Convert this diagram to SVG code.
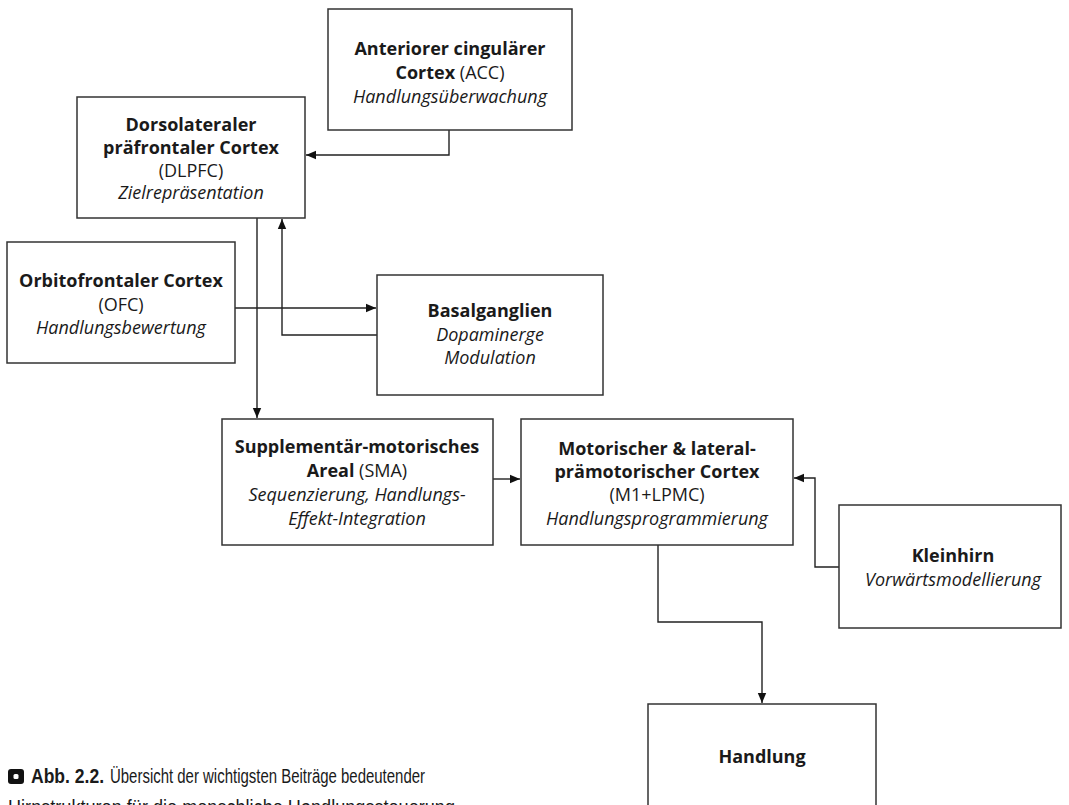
<svg xmlns="http://www.w3.org/2000/svg" width="1069" height="805" viewBox="0 0 1069 805">
<style>
.box{fill:#fff;stroke:#333;stroke-width:1.5}
.t{font-family:"Open Sans","Noto Sans","Liberation Sans",sans-serif;font-size:18px;fill:#1a1a1a;text-anchor:middle}
.b{font-weight:bold}
.i{font-style:italic}
.c{fill:none;stroke:#222;stroke-width:1.4}
.cap{font-family:"Liberation Sans","DejaVu Sans",sans-serif;font-size:20px;fill:#1a1a1a}
</style>
<defs>
<marker id="ah" markerWidth="10" markerHeight="10" refX="10" refY="5" orient="auto" markerUnits="userSpaceOnUse">
<path d="M0,0.8 L10,5 L0,9.2 Z" fill="#111"/>
</marker>
</defs>
<rect width="1069" height="805" fill="#fff"/>
<g id="connectors">
<path class="c" d="M449,130 V155 H306" marker-end="url(#ah)"/>
<path class="c" d="M257,218 V418" marker-end="url(#ah)"/>
<path class="c" d="M235,308 H376" marker-end="url(#ah)"/>
<path class="c" d="M377,335 H282 V219" marker-end="url(#ah)"/>
<path class="c" d="M493,479 H520" marker-end="url(#ah)"/>
<path class="c" d="M839,567 H815 V478 H794" marker-end="url(#ah)"/>
<path class="c" d="M658,545 V622 H762 V703" marker-end="url(#ah)"/>
</g>
<g id="acc">
<rect class="box" x="328" y="9" width="244" height="121"/>
<text class="t b" x="450" y="55">Anteriorer cingulärer</text>
<text class="t" x="450" y="79"><tspan class="b">Cortex</tspan> (ACC)</text>
<text class="t i" x="450" y="103">Handlungsüberwachung</text>
</g>
<g id="dlpfc">
<rect class="box" x="77" y="97" width="228" height="121"/>
<text class="t b" x="191" y="131">Dorsolateraler</text>
<text class="t b" x="191" y="154">präfrontaler Cortex</text>
<text class="t" x="191" y="177">(DLPFC)</text>
<text class="t i" x="191" y="199">Zielrepräsentation</text>
</g>
<g id="ofc">
<rect class="box" x="7" y="242" width="228" height="121"/>
<text class="t b" x="121" y="287">Orbitofrontaler Cortex</text>
<text class="t" x="121" y="311">(OFC)</text>
<text class="t i" x="121" y="334">Handlungsbewertung</text>
</g>
<g id="basalganglien">
<rect class="box" x="377" y="275" width="226" height="120"/>
<text class="t b" x="490" y="317">Basalganglien</text>
<text class="t i" x="490" y="341">Dopaminerge</text>
<text class="t i" x="490" y="364">Modulation</text>
</g>
<g id="sma">
<rect class="box" x="222" y="419" width="271" height="126"/>
<text class="t b" x="357" y="453">Supplementär-motorisches</text>
<text class="t" x="357" y="477"><tspan class="b">Areal</tspan> (SMA)</text>
<text class="t i" x="357" y="501">Sequenzierung, Handlungs-</text>
<text class="t i" x="357" y="525">Effekt-Integration</text>
</g>
<g id="m1lpmc">
<rect class="box" x="521" y="419" width="272" height="126"/>
<text class="t b" x="657" y="455">Motorischer &amp; lateral-</text>
<text class="t b" x="657" y="478">prämotorischer Cortex</text>
<text class="t" x="657" y="501">(M1+LPMC)</text>
<text class="t i" x="657" y="525">Handlungsprogrammierung</text>
</g>
<g id="kleinhirn">
<rect class="box" x="839" y="505" width="222" height="123"/>
<text class="t b" x="953" y="562">Kleinhirn</text>
<text class="t i" x="953" y="586">Vorwärtsmodellierung</text>
</g>
<g id="handlung">
<rect class="box" x="648" y="704" width="228" height="130"/>
<text class="t b" x="762" y="763">Handlung</text>
</g>
<g id="caption">
<rect x="8" y="769" width="16" height="15" rx="3" fill="#111"/>
<rect x="13.5" y="774" width="5" height="5" rx="1.5" fill="#fff"/>
<text class="cap" x="31" y="783" font-weight="bold" textLength="73" lengthAdjust="spacingAndGlyphs">Abb. 2.2.</text>
<text class="cap" x="110" y="783" textLength="315" lengthAdjust="spacingAndGlyphs">Übersicht der wichtigsten Beiträge bedeutender</text>
<text class="cap" x="8" y="814" textLength="447" lengthAdjust="spacingAndGlyphs">Hirnstrukturen für die menschliche Handlungssteuerung</text>
</g>
</svg>
